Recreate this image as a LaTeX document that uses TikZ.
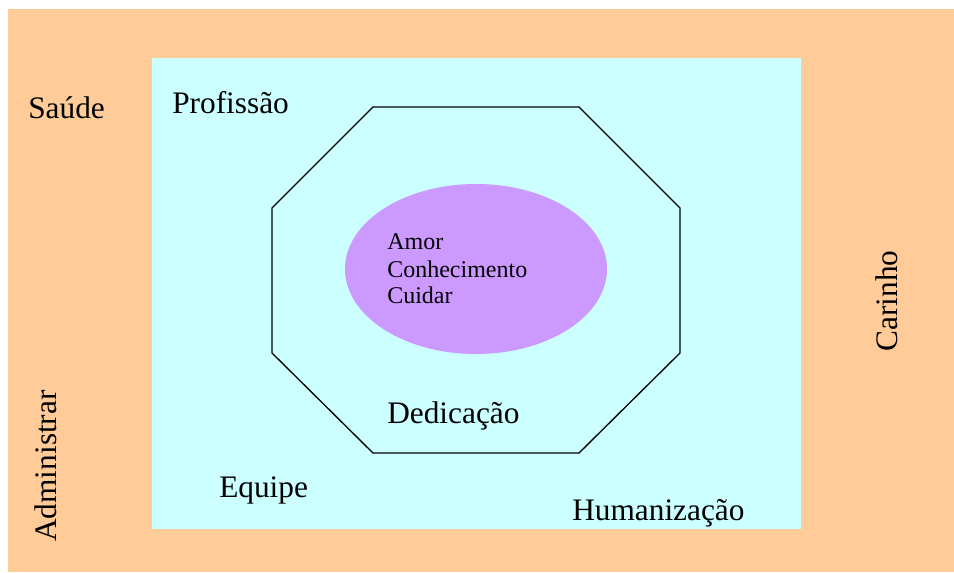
\documentclass[tikz,border=0pt]{standalone}
\usepackage{fontspec}
\setmainfont{Liberation Serif}
\usepackage{tikz}
\definecolor{peach}{HTML}{FFCC99}
\definecolor{paleCyan}{HTML}{CCFFFF}
\definecolor{lilac}{HTML}{CC99FF}

\begin{document}
\begin{tikzpicture}[x=0.75pt, y=-0.75pt,
    word/.style={inner sep=0pt, font=\fontsize{23.5}{28}\selectfont},
    small/.style={inner sep=0pt, anchor=base west, font=\fontsize{18}{22}\selectfont}]
            \useasboundingbox (0,0) rectangle (954,572);
            \fill[peach] (8,9) rectangle (954,572);
            \fill[paleCyan] (152,58) rectangle (801,529);

            \draw[line width=1pt, line join=miter] (373,107) -- (579,107) -- (680,208) -- (680,353)
                -- (579,453) -- (373,453) -- (272,353) -- (272,208) -- cycle;
            \fill[lilac] (476,269) ellipse [x radius=98.25pt, y radius=63.75pt];

            \node[small] at (387,249)   (amor) {Amor};
            \node[small] at (387,277)   (conhec) {Conhecimento};
            \node[small] at (387,303)   (cuidar) {Cuidar};

            \node[word, anchor=base west] at (28,118)    (saude) {Saúde};
            \node[word, anchor=base west] at (172,113)   (prof) {Profissão};
            \node[word, anchor=base west] at (387,423)   (dedic) {Dedicação};
            \node[word, anchor=base west] at (219,497)   (equipe) {Equipe};
            \node[word, anchor=base west] at (572,520)   (human) {Humanização};
            \node[word, rotate=90] at (887,301)   (carinho) {Carinho};
            \node[word, rotate=90] at (46,466)   (admin) {Administrar};
        \end{tikzpicture}
\end{document}
